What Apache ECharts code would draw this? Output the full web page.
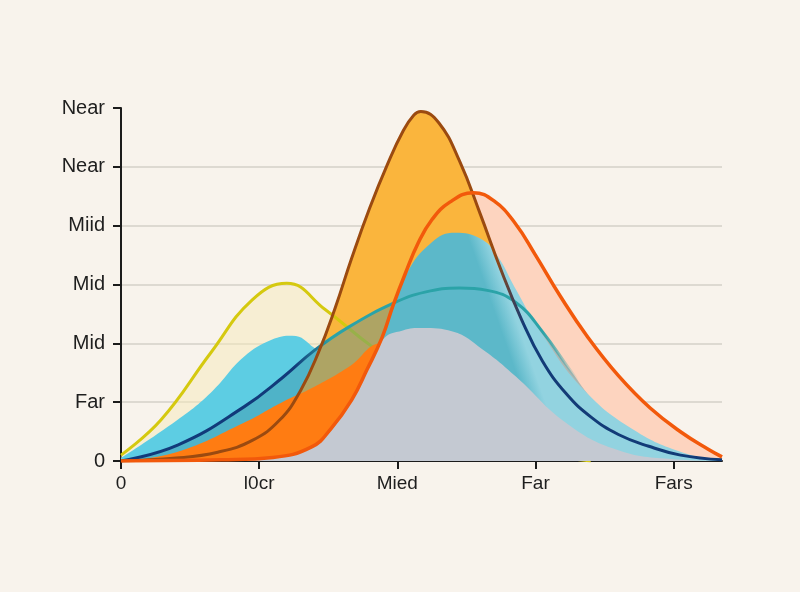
<!DOCTYPE html>
<html>
<head>
<meta charset="utf-8">
<script src="https://cdn.jsdelivr.net/npm/echarts@6/dist/echarts.min.js"></script>
<style>
  html, body { margin: 0; padding: 0; background: #f8f3ec; }
  #chart { width: 800px; height: 592px; }
</style>
</head>
<body>
<div id="chart"></div>
<script>
// tick labels
const xLabels = ['0', 'l0cr', 'Mied', 'Far', 'Fars']
const yLabels = ['0', 'Far', 'Mid', 'Mid', 'Miid', 'Near', 'Near']

// curves as [x, y]
const yellowData = [[0, 0.1], [0.29, 0.7], [0.65, 1.84], [0.95, 2.74], [1.2, 3.02], [1.48, 2.57], [1.82, 1.94], [2.05, 1.6], [2.35, 0.9], [2.8, 0.3], [3.4, 0]]
const cyanLeftData = [[0, 0.05], [0.41, 0.7], [0.65, 1.16], [0.89, 1.77], [1.09, 2.06], [1.24, 2.13], [1.4, 1.92], [1.6, 1.5], [1.85, 0.8], [2.1, 0.2], [2.3, 0]]
const redData = [[0, 0], [0.73, 0.02], [1.1, 0.06], [1.38, 0.24], [1.52, 0.55], [1.67, 1.04], [1.78, 1.55], [1.89, 2.1], [1.97, 2.65], [2.06, 3.2], [2.15, 3.7], [2.25, 4.1], [2.38, 4.4], [2.55, 4.56], [2.7, 4.42], [2.85, 4.05], [3.0, 3.5], [3.18, 2.8], [3.38, 2.1], [3.6, 1.45], [3.83, 0.9], [4.06, 0.48], [4.25, 0.2], [4.35, 0.07]]
const peakData = [[0, 0], [0.4, 0.05], [0.7, 0.15], [0.95, 0.35], [1.15, 0.7], [1.3, 1.2], [1.43, 1.85], [1.55, 2.6], [1.67, 3.45], [1.8, 4.3], [1.93, 5.05], [2.04, 5.6], [2.12, 5.88], [2.17, 5.94], [2.3, 5.75], [2.45, 5.1], [2.6, 4.2], [2.75, 3.25], [2.9, 2.4], [3.05, 1.7], [3.22, 1.15], [3.4, 0.75], [3.6, 0.45], [3.82, 0.25], [4.05, 0.1], [4.35, 0.02]]
const tealData = [[0, 0], [0.41, 0.27], [0.89, 0.92], [1.17, 1.42], [1.4, 1.88], [1.65, 2.28], [1.98, 2.69], [2.2, 2.87], [2.45, 2.94], [2.65, 2.9], [2.86, 2.69], [3.05, 2.2], [3.25, 1.55], [3.45, 0.95], [3.68, 0.5], [3.95, 0.2], [4.2, 0.05], [4.35, 0]]
const cyanBigData = [[1.3, 0], [1.5, 0.35], [1.67, 1.04], [1.89, 2.12], [2.06, 3.15], [2.25, 3.72], [2.42, 3.88], [2.6, 3.78], [2.72, 3.5], [2.85, 2.95], [3.05, 2.15], [3.35, 1.21], [3.71, 0.53], [4.07, 0.14], [4.35, 0]]
const brightData = [[0, 0], [0.4, 0.15], [0.89, 0.65], [1.16, 0.99], [1.4, 1.26], [1.65, 1.6], [1.89, 2.0], [2.05, 1.8], [2.25, 1.0], [2.5, 0.2], [2.7, 0]]
const grayData = [[0.7, 0], [1.02, 0.05], [1.38, 0.24], [1.67, 1.04], [1.89, 2.05], [2.04, 2.22], [2.18, 2.26], [2.4, 2.2], [2.62, 1.89], [2.86, 1.43], [3.22, 0.65], [3.59, 0.19], [4.0, 0.03], [4.35, 0]]

function hGrad(stops) {
    return {
        type: 'linear', x: 0, y: 0, x2: 1, y2: 0,
        colorStops: stops.map(s => ({ offset: s[0], color: s[1] }))
    }
}

// area only
function area(data, color) {
    return {
        type: 'line', data: data, smooth: 0.45, symbol: 'none', silent: true,
        lineStyle: { width: 0 },
        areaStyle: { color: color, opacity: 1 }
    }
}

// line only
function line(data, color, width) {
    return {
        type: 'line', data: data, smooth: 0.45, symbol: 'none', silent: true,
        lineStyle: { color: color, width: width }
    }
}

const chart = echarts.init(document.getElementById('chart'))

// the big cyan hump is lighter on the right of the brown/navy outline
const cyanSplit = {
    type: 'linear', global: true,
    x: 503, y: 336, x2: 520, y2: 330,
    colorStops: [{ offset: 0, color: '#5cb8c9' }, { offset: 1, color: '#92d3e0' }]
}

let layers = [
    area(yellowData, 'rgba(246,234,186,0.5)'),
    area(cyanLeftData, '#5dcde3'),
    area(redData, '#fdd4bf'),
    area(peakData, '#fab53d'),
    line(yellowData, '#d5c90f', 3),
    area(tealData, 'rgba(60,140,160,0.4)'),
    area(cyanBigData, cyanSplit),
    area(brightData, '#ff7c12'),
    area(grayData, '#c4c9d2'),
    line(tealData, hGrad([[0, '#113a7a'], [0.29, '#113a7a'], [0.35, '#2ba3a8'], [0.7, '#2ba3a8'], [0.76, 'rgba(43,163,168,0)'], [1, 'rgba(43,163,168,0)']]), 3),
    line(peakData, hGrad([[0, '#9b4a10'], [0.62, '#9b4a10'], [0.67, '#123b77'], [1, '#123b77']]), 3),
    line(redData, '#f2590b', 3.5)
]
// keep the stacking order of the layers
layers.forEach((s, i) => { s.z = 2 + i })

let option = {
    backgroundColor: '#f8f3ec',
    animation: false,
    grid: { left: 121, right: 78, top: 108, bottom: 131 },
    xAxis: {
        type: 'value',
        min: 0,
        max: 4.35,
        interval: 1,
        axisLine: { show: true, lineStyle: { color: '#1b1b1b', width: 2 } },
        axisTick: { show: true, length: 8, lineStyle: { color: '#1b1b1b', width: 2 } },
        axisLabel: {
            margin: 13,
            fontSize: 19,
            fontFamily: 'Liberation Sans',
            color: '#1e1e1e',
            showMaxLabel: false,
            formatter: v => (Number.isInteger(v) ? xLabels[v] : '')
        },
        splitLine: { show: false }
    },
    yAxis: {
        type: 'value',
        min: 0,
        max: 6,
        interval: 1,
        axisLine: { show: true, lineStyle: { color: '#1b1b1b', width: 2 } },
        axisTick: { show: true, length: 8, lineStyle: { color: '#1b1b1b', width: 2 } },
        axisLabel: {
            margin: 16,
            fontSize: 20,
            fontFamily: 'Liberation Sans',
            color: '#1e1e1e',
            formatter: v => yLabels[Math.round(v)] || ''
        },
        splitLine: {
            show: true,
            showMinLine: false,
            showMaxLine: false,
            lineStyle: { color: '#d4d0c9', width: 1.5 }
        }
    },
    series: layers
}
chart.setOption(option)
</script>
</body>
</html>
